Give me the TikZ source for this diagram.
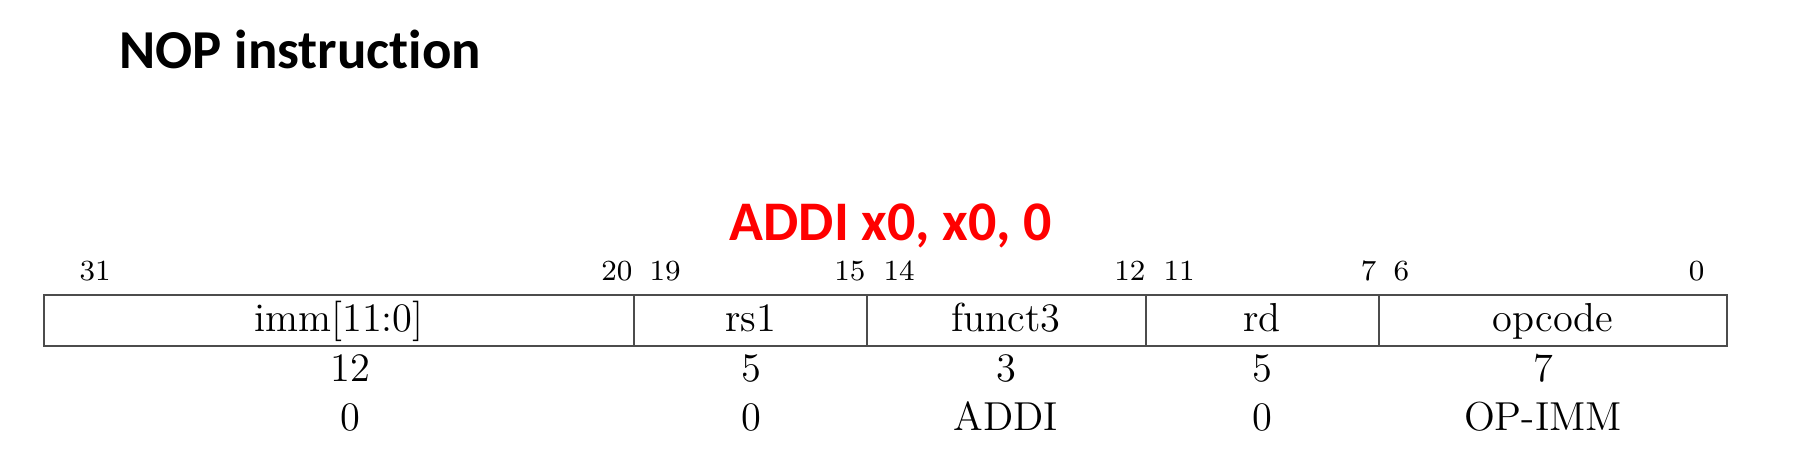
\documentclass[tikz,border=0pt]{standalone}
\usepackage{fontspec}
\usepackage{tikz}
\newfontfamily\slidefont[Ligatures={NoCommon,NoDiscretionary}]{Carlito}

\begin{document}
\begin{tikzpicture}[x=0.01cm,y=-0.01cm]
        \useasboundingbox (0, 0) rectangle (1818, 468);
        \node[anchor=base west, inner sep=0, font=\slidefont\bfseries\fontsize{15.6}{18}\selectfont] (title) at (119, 69) {NOP instruction};
        \node[anchor=base, inner sep=0, text=red, font=\slidefont\bfseries\fontsize{15.9}{18}\selectfont] (asm) at (891, 241) {ADDI x0, x0, 0};
        \draw[black!70, line width=0.65pt] (44, 295) rectangle (1727, 346);
        \foreach \x in {634, 867, 1146, 1379}
        \draw[black!70, line width=0.65pt] (\x, 295) -- (\x, 346);
        \foreach \x/\b [count=\i] in {79/31, 649/19, 883/14, 1163/11, 1393/6}
        \node[anchor=base west, inner sep=0, font=\fontsize{8.3}{10}\selectfont] (hi\i) at (\x, 281) {\b};
        \foreach \x/\b [count=\i] in {633/20, 866/15, 1146/12, 1377/7, 1705/0}
        \node[anchor=base east, inner sep=0, font=\fontsize{8.3}{10}\selectfont] (lo\i) at (\x, 281) {\b};
        \foreach \x/\t [count=\i] in {339/{imm[11:0]}, 751/rs1, 1006/funct3, 1262/rd, 1553/opcode}
        \node[anchor=base, inner sep=0, font=\fontsize{11.5}{14}\selectfont] (field\i) at (\x, 332) {\t};
        \foreach \x/\w/\v [count=\i] in {350/12/0, 751/5/0, 1006/3/ADDI, 1262/5/0, 1543/7/OP-IMM}{
          \node[anchor=base, inner sep=0, font=\fontsize{11.5}{14}\selectfont] (width\i) at (\x, 382) {\w};
          \node[anchor=base, inner sep=0, font=\fontsize{11.5}{14}\selectfont] (value\i) at (\x, 431) {\v};};
      \end{tikzpicture}
\end{document}
